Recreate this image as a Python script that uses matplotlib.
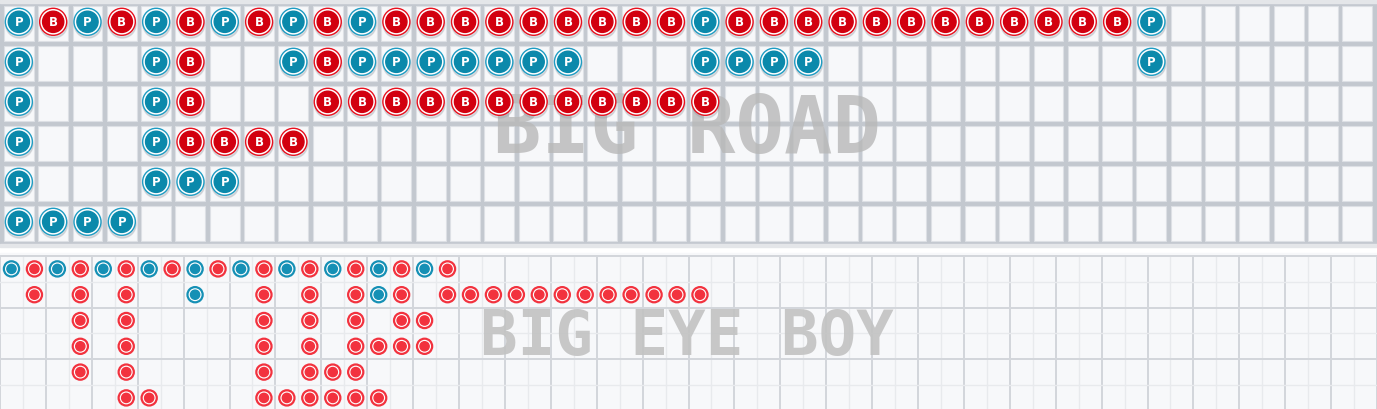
import matplotlib
matplotlib.use("Agg")
import matplotlib.pyplot as plt
from matplotlib.patches import Rectangle, Circle

# -------------------------
# DATA (P = player, B = banker, R = red, . = empty)
# -------------------------
big_road = [
    "PBPBPBPBPBP" + "B" * 9 + "P" + "B" * 12 + "P" + "." * 6,
    "P...PB..PB" + "P" * 7 + "..." + "PPPP" + "." * 9 + "P" + "." * 6,
    "P...PB..." + "B" * 12 + "." * 19,
    "P...PBBBB" + "." * 31,
    "P...PPP" + "." * 33,
    "PPPP" + "." * 36,
]

big_eye = [
    "BR" * 10 + "." * 40,
    ".R.R.R..B..R.R.RBR." + "R" * 12 + "." * 29,
    "...R.R.....R.R.R.RR" + "." * 41,
    "...R.R.....R.R.RRRR" + "." * 41,
    "...R.R.....R.RRR" + "." * 44,
    ".....RR....RRRRRR" + "." * 43,
]

road_title = "BIG ROAD"
eye_title = "BIG EYE BOY"

# -------------------------
# LAYOUT (pixels)
# -------------------------
W, H = 1377, 409
road_x0, road_y0, road_cw, road_ch = 1.7, 3.3, 34.32, 40.0
eye_y0, eye_cw, eye_ch = 256.0, 1377 / 60, 25.8

blue_ring, blue_fill = "#1e9cc3", "#0b89ab"
red_ring, red_fill = "#e8101e", "#d2000f"
eye_red, eye_blue = "#f2323e", "#1590b5"

fig = plt.figure(figsize=(W / 100, H / 100), dpi=100)
ax = fig.add_axes([0, 0, 1, 1])
ax.set_xlim(0, W)
ax.set_ylim(H, 0)
ax.axis("off")

# -------------------------
# BIG ROAD GRID
# -------------------------
ax.add_patch(Rectangle((0, 0), W, 247, color="#c3c8cf", zorder=0))
ax.add_patch(Rectangle((0, 0), W, 3.0, color="#e4e6e9", zorder=1))
ax.add_patch(Rectangle((0, 243.5), W, 3.5, color="#e4e6e9", zorder=1))
ax.add_patch(Rectangle((0, 247), W, H - 247, color="#ffffff", zorder=0))

n_rows = len(big_road)
n_cols = len(big_road[0])
for r in range(n_rows):
    for c in range(n_cols):
        x = road_x0 + c * road_cw
        y = road_y0 + r * road_ch
        ax.add_patch(Rectangle((x + 2.2, y + 2.2), road_cw - 4.4, road_ch - 4.4,
                               facecolor="#f7f8fa", edgecolor="#dde0e5",
                               linewidth=0.8, zorder=1))

ax.text(687, 131, road_title, fontsize=58, fontweight="bold",
        family="DejaVu Sans Mono", color="#b8b8b8", alpha=0.8,
        ha="center", va="center", zorder=2)

for r, row in enumerate(big_road):
    for c, v in enumerate(row):
        if v == ".":
            continue
        cx = road_x0 + (c + 0.5) * road_cw
        cy = road_y0 + (r + 0.5) * road_ch - 1.5
        ring, fill = (blue_ring, blue_fill) if v == "P" else (red_ring, red_fill)
        ax.add_patch(Circle((cx + 0.5, cy + 2.5), 13.8, color="#9aa0a8", alpha=0.3, zorder=3))
        ax.add_patch(Circle((cx, cy), 13.5, color=ring, zorder=4))
        ax.add_patch(Circle((cx, cy), 12.1, color="white", zorder=5))
        ax.add_patch(Circle((cx, cy), 10.6, color=fill, zorder=6))
        ax.text(cx, cy + 0.5, v, fontsize=8.5, fontweight="bold", color="white",
                ha="center", va="center", zorder=7)

# -------------------------
# BIG EYE BOY GRID
# -------------------------
ax.add_patch(Rectangle((0, eye_y0 - 3), W, H - eye_y0 + 3, color="#f7f8fa", zorder=1))
eye_rows = len(big_eye)
eye_cols = len(big_eye[0])
for c in range(eye_cols + 1):
    x = c * eye_cw
    major = c % 2 == 0
    ax.plot([x, x], [eye_y0, eye_y0 + eye_rows * eye_ch],
            color="#d3d6db" if major else "#e8eaed",
            linewidth=1.4 if major else 1.0, zorder=2)
for r in range(eye_rows + 1):
    y = eye_y0 + r * eye_ch
    major = r % 2 == 0
    ax.plot([0, W], [y, y], color="#d3d6db" if major else "#e8eaed",
            linewidth=1.4 if major else 1.0, zorder=2)

ax.text(687, 338, eye_title, fontsize=45, fontweight="bold",
        family="DejaVu Sans Mono", color="#c2c2c2", alpha=0.9,
        ha="center", va="center", zorder=3)

for r, row in enumerate(big_eye):
    for c, v in enumerate(row):
        if v == ".":
            continue
        cx = (c + 0.5) * eye_cw
        cy = eye_y0 + (r + 0.5) * eye_ch
        col = eye_blue if v == "B" else eye_red
        ax.add_patch(Circle((cx, cy), 7.6, facecolor="white", edgecolor=col,
                            linewidth=1.6, zorder=4))
        ax.add_patch(Circle((cx, cy), 4.6, color=col, zorder=5))

fig.savefig("out.png", dpi=100)
